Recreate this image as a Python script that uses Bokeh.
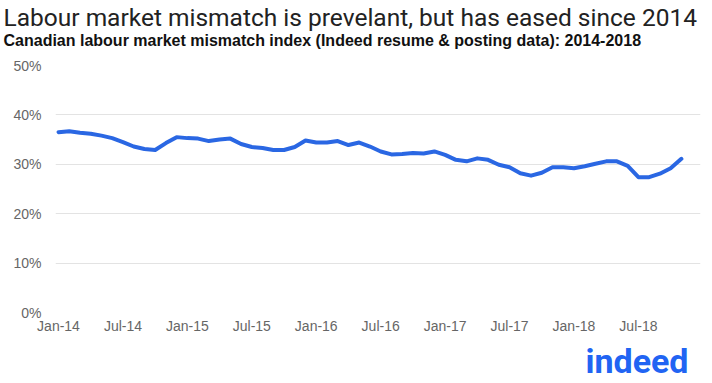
from bokeh.plotting import figure
from bokeh.models import Range1d, FixedTicker, Title, NumeralTickFormatter
from bokeh.embed import file_html
from bokeh.resources import INLINE

# Data: monthly index values (%), Jan-2014 .. Nov-2018
months = [f"{m}-{y}" for y in range(14, 19) for m in
          ["Jan", "Feb", "Mar", "Apr", "May", "Jun", "Jul", "Aug", "Sep", "Oct", "Nov", "Dec"]][:59]
values = [
    36.5, 36.7, 36.4, 36.2, 35.8, 35.3, 34.5, 33.6, 33.1, 32.9, 34.3, 35.5,
    35.3, 35.2, 34.7, 35.0, 35.2, 34.1, 33.5, 33.3, 32.9, 32.9, 33.5, 34.8,
    34.4, 34.4, 34.7, 33.9, 34.4, 33.6, 32.6, 32.0, 32.1, 32.3, 32.2, 32.6,
    31.9, 30.9, 30.6, 31.2, 30.9, 29.9, 29.4, 28.2, 27.7, 28.3, 29.4, 29.4,
    29.2, 29.6, 30.1, 30.6, 30.6, 29.7, 27.4, 27.4, 28.1, 29.2, 31.1,
]
tick_labels = ["Jan-14", "Jul-14", "Jan-15", "Jul-15", "Jan-16", "Jul-16",
               "Jan-17", "Jul-17", "Jan-18", "Jul-18"]
y_ticks = [0, 10, 20, 30, 40, 50]

title_text = "Labour market mismatch is prevelant, but has eased since 2014"
subtitle_text = "Canadian labour market mismatch index (Indeed resume & posting data): 2014-2018"
logo_text = "indeed"

xs = list(range(len(values)))
ys = [v / 100 for v in values]

p = figure(width=712, height=383, output_backend="svg", toolbar_location=None,
           x_range=Range1d(-0.28, 59.78), y_range=Range1d(0, 0.5),
           min_border_left=55, min_border_right=12, min_border_bottom=0, min_border_top=0)
p.outline_line_color = None
p.background_fill_color = "white"

# titles (last added is outermost): spacer, subtitle, main title
p.add_layout(Title(text=" ", text_font_size="2px", standoff=10), "above")
p.add_layout(Title(text=subtitle_text, text_font="Liberation Sans", text_font_size="16px",
                   text_font_style="bold", text_color="#111111", offset=-52, standoff=1,
                   vertical_align="top"), "above")
p.add_layout(Title(text=title_text, text_font="Roboto", text_font_size="24.5px",
                   text_font_style="normal", text_color="#222222", offset=-52, standoff=0), "above")

# logo below
p.add_layout(Title(text=logo_text, text_font="Roboto", text_font_size="34px",
                   text_font_style="bold", text_color="#2164f3", align="right",
                   offset=12, standoff=5), "below")

p.line(xs, ys, line_color="#2a67e3", line_width=4, line_join="round", line_cap="round")

# y axis
p.yaxis.ticker = FixedTicker(ticks=[t / 100 for t in y_ticks])
p.yaxis.formatter = NumeralTickFormatter(format="0%")
p.yaxis.axis_line_color = None
p.yaxis.major_tick_line_color = None
p.yaxis.major_tick_out = 0
p.yaxis.major_tick_in = 0
p.yaxis.minor_tick_line_color = None
p.yaxis.major_label_text_font = "Liberation Sans"
p.yaxis.major_label_text_font_size = "14px"
p.yaxis.major_label_text_color = "#666666"
p.yaxis.major_label_standoff = 14

# x axis
tick_pos = [months.index(t) for t in tick_labels]
p.xaxis.ticker = FixedTicker(ticks=tick_pos)
p.xaxis.major_label_overrides = {pos: lab for pos, lab in zip(tick_pos, tick_labels)}
p.xaxis.axis_line_color = None
p.xaxis.major_tick_line_color = None
p.xaxis.major_tick_out = 0
p.xaxis.major_tick_in = 0
p.xaxis.minor_tick_line_color = None
p.xaxis.major_label_text_font = "Liberation Sans"
p.xaxis.major_label_text_font_size = "14px"
p.xaxis.major_label_text_color = "#666666"
p.xaxis.major_label_standoff = 5

p.xgrid.grid_line_color = None
p.ygrid.grid_line_color = "#e3e3e3"
p.ygrid.grid_line_width = 1

open("out.html", "w").write(file_html(p, INLINE))
